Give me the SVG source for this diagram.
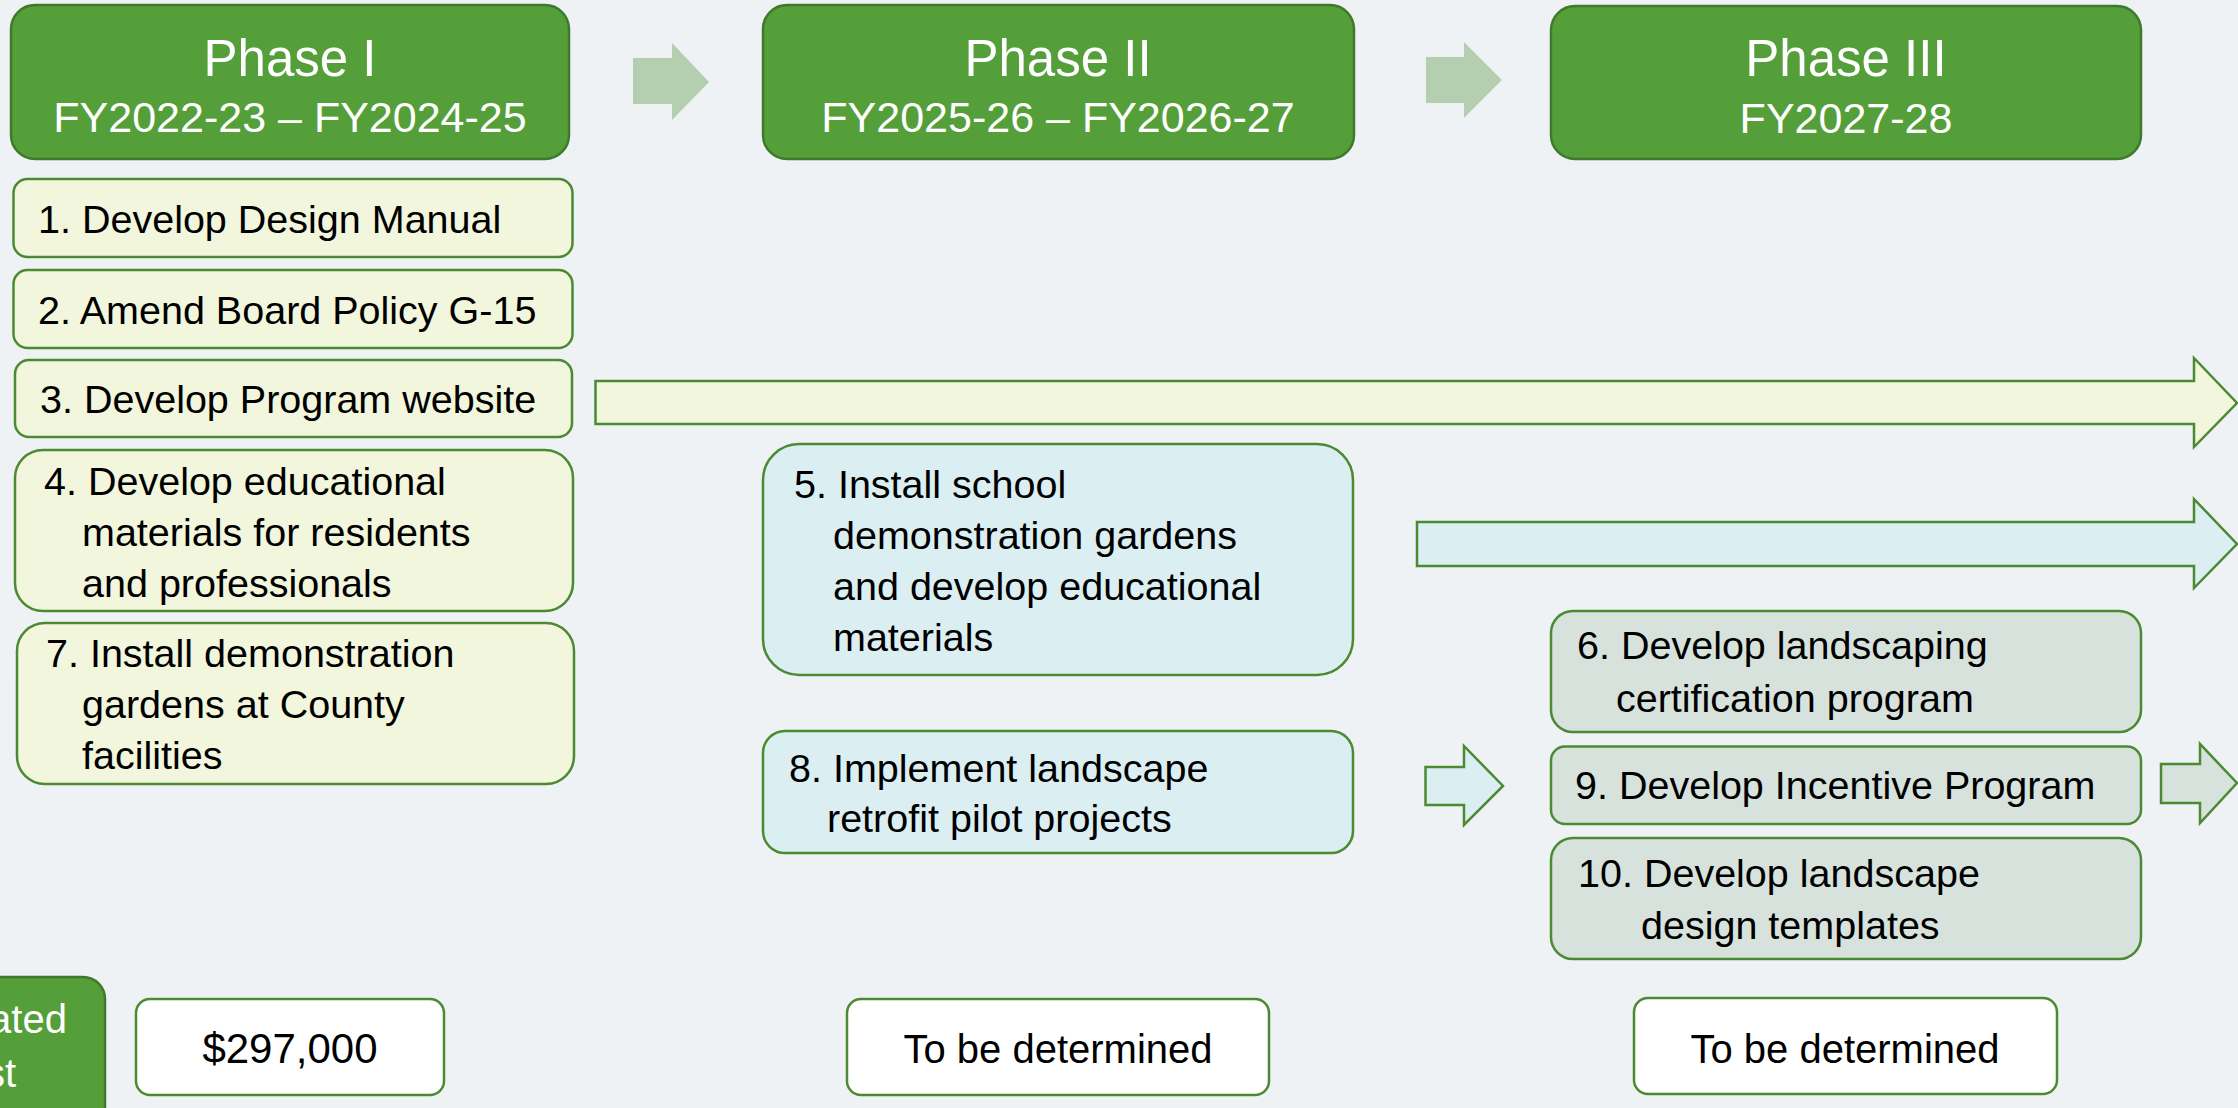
<svg xmlns="http://www.w3.org/2000/svg" width="2238" height="1108" viewBox="0 0 2238 1108">
<style>
.bg{fill:#eef2f5}
.phase{fill:#559f3a;stroke:#3f7a2c;stroke-width:2.5}
.pt{font-family:"Liberation Sans",Arial,sans-serif;fill:#ffffff;text-anchor:middle}
.t1{font-size:51px}
.t2{font-size:43px}
.yel{fill:#f2f6dc;stroke:#4b8a33;stroke-width:2.5}
.blu{fill:#dbeff2;stroke:#4b8a33;stroke-width:2.5}
.gry{fill:#d7e2dc;stroke:#4b8a33;stroke-width:2.5}
.wht{fill:#ffffff;stroke:#4b8a33;stroke-width:2.5}
.tx{font-family:"Liberation Sans",Arial,sans-serif;font-size:39.5px;fill:#000000}
.cx{font-family:"Liberation Sans",Arial,sans-serif;font-size:40px;fill:#000000;text-anchor:middle}
.parr{fill:#b4cfb0}
</style>
<rect class="bg" x="0" y="0" width="2238" height="1108"/>

<g id="connectors">
  <polygon class="parr" points="633,58 672,58 672,43 709,82 672,120 672,104 633,104"/>
  <polygon class="parr" points="1426,57 1464,57 1464,42 1502,80 1464,118 1464,103 1426,103"/>
  <polygon class="yel" points="595.5,381 2194,381 2194,358 2237,403 2194,447 2194,424 595.5,424"/>
  <polygon class="blu" points="1417,522 2194,522 2194,499 2237,544 2194,588 2194,566 1417,566"/>
  <polygon class="blu" points="1425.5,767 1464,767 1464,746 1503,786 1464,825 1464,805 1425.5,805"/>
  <polygon class="gry" points="2161,764 2200,764 2200,744 2237,783 2200,823 2200,803 2161,803"/>
</g>

<g id="phase1">
  <rect class="phase" x="11" y="5" width="558" height="154" rx="24"/>
  <text class="pt t1" x="290" y="76">Phase I</text>
  <text class="pt t2" x="290" y="132">FY2022-23 – FY2024-25</text>
</g>
<g id="phase2">
  <rect class="phase" x="763" y="5" width="591" height="154" rx="24"/>
  <text class="pt t1" x="1058" y="76">Phase II</text>
  <text class="pt t2" x="1058" y="132">FY2025-26 – FY2026-27</text>
</g>
<g id="phase3">
  <rect class="phase" x="1551" y="6" width="590" height="153" rx="24"/>
  <text class="pt t1" x="1846" y="76">Phase III</text>
  <text class="pt t2" x="1846" y="133">FY2027-28</text>
</g>

<g id="task1">
  <rect class="yel" x="13.5" y="179" width="559" height="78" rx="14"/>
  <text class="tx" x="38" y="233">1. Develop Design Manual</text>
</g>
<g id="task2">
  <rect class="yel" x="13.5" y="270" width="559" height="78" rx="14"/>
  <text class="tx" x="38" y="324">2. Amend Board Policy G-15</text>
</g>
<g id="task3">
  <rect class="yel" x="15" y="360" width="557" height="77" rx="14"/>
  <text class="tx" x="40" y="413">3. Develop Program website</text>
</g>
<g id="task4">
  <rect class="yel" x="15" y="450" width="558" height="161" rx="28"/>
  <text class="tx" x="44" y="495">4. Develop educational</text>
  <text class="tx" x="82" y="546">materials for residents</text>
  <text class="tx" x="82" y="597">and professionals</text>
</g>
<g id="task7">
  <rect class="yel" x="17" y="623" width="557" height="161" rx="28"/>
  <text class="tx" x="46" y="667">7. Install demonstration</text>
  <text class="tx" x="82" y="718">gardens at County</text>
  <text class="tx" x="82" y="769">facilities</text>
</g>
<g id="task5">
  <rect class="blu" x="763" y="444" width="590" height="231" rx="36"/>
  <text class="tx" x="794" y="498">5. Install school</text>
  <text class="tx" x="833" y="549">demonstration gardens</text>
  <text class="tx" x="833" y="600">and develop educational</text>
  <text class="tx" x="833" y="651">materials</text>
</g>
<g id="task8">
  <rect class="blu" x="763" y="731" width="590" height="122" rx="22"/>
  <text class="tx" x="789" y="782">8. Implement landscape</text>
  <text class="tx" x="827" y="832">retrofit pilot projects</text>
</g>
<g id="task6">
  <rect class="gry" x="1551" y="611" width="590" height="121" rx="22"/>
  <text class="tx" x="1577" y="659">6. Develop landscaping</text>
  <text class="tx" x="1616" y="712">certification program</text>
</g>
<g id="task9">
  <rect class="gry" x="1551" y="746.5" width="590" height="77.5" rx="14"/>
  <text class="tx" x="1575" y="799">9. Develop Incentive Program</text>
</g>
<g id="task10">
  <rect class="gry" x="1551" y="838" width="590" height="121" rx="22"/>
  <text class="tx" x="1578" y="887">10. Develop landscape</text>
  <text class="tx" x="1641" y="939">design templates</text>
</g>

<g id="costLabel">
  <rect class="phase" x="-150" y="977" width="255" height="165" rx="22"/>
  <text class="pt" style="font-size:40px" x="-22" y="1033">Estimated</text>
  <text class="pt" style="font-size:40px" x="-25" y="1087">Cost</text>
</g>
<g id="cost1">
  <rect class="wht" x="136" y="999" width="308" height="96" rx="14"/>
  <text class="cx" x="290" y="1063" style="font-size:42px">$297,000</text>
</g>
<g id="cost2">
  <rect class="wht" x="847" y="999" width="422" height="96" rx="14"/>
  <text class="cx" x="1058" y="1063">To be determined</text>
</g>
<g id="cost3">
  <rect class="wht" x="1634" y="998" width="423" height="96" rx="14"/>
  <text class="cx" x="1845" y="1063">To be determined</text>
</g>
</svg>
